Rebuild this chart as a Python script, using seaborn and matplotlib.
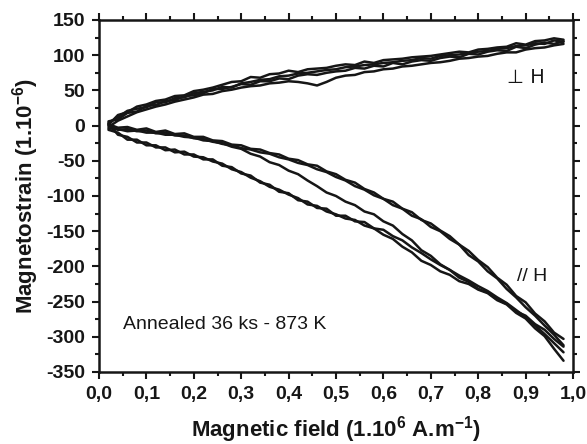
import matplotlib
matplotlib.use("Agg")
import matplotlib.pyplot as plt
import matplotlib.ticker as mticker
import pandas as pd
import seaborn as sns

# magnetic field (1e6 A/m), shared by every sweep
field = [0.02, 0.04, 0.06, 0.08, 0.10, 0.12, 0.14, 0.16, 0.18, 0.20,
         0.22, 0.24, 0.26, 0.28, 0.30, 0.32, 0.34, 0.36, 0.38, 0.40,
         0.42, 0.44, 0.46, 0.48, 0.50, 0.52, 0.54, 0.56, 0.58, 0.60,
         0.62, 0.64, 0.66, 0.68, 0.70, 0.72, 0.74, 0.76, 0.78, 0.80,
         0.82, 0.84, 0.86, 0.88, 0.90, 0.92, 0.94, 0.96, 0.98]

# perpendicular to H
perp_a = [1, 15, 19, 27, 30, 35, 37, 42, 43, 49, 51, 54, 58, 62, 63, 69, 68, 73, 74, 78,
          76, 80, 81, 82, 85, 87, 86, 91, 89, 93, 94, 95, 97, 98, 99, 101, 103, 105, 104, 108,
          109, 111, 112, 117, 115, 120, 121, 124, 122]
perp_b = [6, 9, 18, 20, 28, 29, 35, 36, 42, 43, 46, 52, 52, 55, 59, 58, 63, 63, 67, 66,
          71, 73, 72, 75, 77, 78, 82, 81, 85, 84, 89, 87, 91, 93, 92, 96, 98, 97, 102, 101,
          105, 107, 106, 112, 110, 115, 118, 116, 120]
perp_c = [-2, 7, 13, 19, 23, 27, 30, 34, 37, 40, 44, 45, 49, 51, 54, 56, 57, 60, 61, 63,
          62, 60, 57, 62, 68, 71, 72, 76, 77, 80, 81, 84, 85, 87, 89, 90, 92, 95, 96, 98,
          99, 102, 104, 104, 108, 110, 111, 114, 116]
perp_d = [4, 12, 21, 24, 26, 33, 33, 39, 40, 46, 48, 50, 55, 54, 60, 62, 65, 66, 70, 71,
          74, 75, 77, 79, 80, 83, 84, 86, 87, 89, 90, 92, 93, 96, 95, 99, 100, 101, 103, 105,
          106, 109, 110, 113, 114, 117, 116, 121, 119]

# parallel to H
par_u1 = [2, -3, -2, -6, -4, -9, -7, -12, -11, -16, -16, -21, -22, -27, -28, -33, -34, -39, -41, -47,
          -49, -55, -57, -65, -69, -77, -81, -90, -95, -104, -108, -118, -123, -134, -139, -149, -157, -169, -178, -191,
          -201, -216, -226, -242, -251, -267, -278, -294, -303]
par_u2 = [-4, -5, -8, -7, -10, -10, -13, -13, -16, -17, -21, -22, -26, -28, -32, -34, -38, -40, -45, -48,
          -53, -56, -62, -66, -73, -78, -86, -91, -99, -104, -113, -118, -128, -133, -144, -150, -161, -169, -184, -193,
          -207, -217, -232, -244, -258, -270, -284, -297, -312]
par_m = [0, -6, -5, -8, -7, -11, -10, -14, -14, -18, -19, -23, -25, -30, -33, -40, -44, -52, -56, -64,
         -69, -78, -86, -95, -100, -108, -113, -122, -126, -136, -142, -154, -163, -177, -185, -197, -205, -216, -222, -232,
         -237, -247, -253, -264, -270, -282, -290, -303, -314]
par_l1 = [3, -13, -16, -24, -24, -31, -31, -38, -37, -44, -45, -51, -54, -62, -66, -74, -79, -87, -91, -98,
          -103, -112, -114, -122, -126, -132, -134, -142, -146, -155, -161, -172, -180, -192, -198, -207, -212, -221, -225, -233,
          -238, -248, -254, -266, -274, -288, -299, -317, -334]
par_l2 = [-6, -10, -20, -20, -28, -28, -35, -34, -41, -41, -48, -48, -57, -59, -68, -71, -81, -84, -94, -96,
          -106, -108, -117, -118, -128, -128, -136, -137, -146, -148, -157, -163, -173, -181, -190, -198, -205, -213, -220, -228,
          -235, -244, -252, -262, -272, -284, -296, -309, -322]

sweeps = {
    "perp_a": perp_a, "perp_b": perp_b, "perp_c": perp_c, "perp_d": perp_d,
    "par_u1": par_u1, "par_u2": par_u2, "par_m": par_m,
    "par_l1": par_l1, "par_l2": par_l2,
}

df = pd.concat(
    [pd.DataFrame({"field": field, "strain": v, "sweep": k}) for k, v in sweeps.items()],
    ignore_index=True,
)

sns.set_style("ticks")
plt.rcParams["font.family"] = ["Liberation Sans", "DejaVu Sans"]
plt.rcParams["axes.unicode_minus"] = False
plt.rcParams["mathtext.fontset"] = "custom"
plt.rcParams["mathtext.rm"] = "Liberation Sans:bold"
plt.rcParams["mathtext.bf"] = "Liberation Sans:bold"

ink = "#161616"

fig = plt.figure(figsize=(5.87, 4.44), dpi=100)
ax = fig.add_axes([99 / 587, 72 / 444, 474 / 587, 352 / 444])

sns.lineplot(
    data=df, x="field", y="strain", units="sweep", estimator=None,
    sort=False, color=ink, linewidth=1.8, ax=ax,
)

ax.set_xlim(0.0, 1.0)
ax.set_ylim(-350, 150)
ax.xaxis.set_major_locator(mticker.MultipleLocator(0.1))
ax.xaxis.set_minor_locator(mticker.MultipleLocator(0.05))
ax.yaxis.set_major_locator(mticker.MultipleLocator(50))
ax.yaxis.set_minor_locator(mticker.MultipleLocator(25))
ax.xaxis.set_major_formatter(
    mticker.FuncFormatter(lambda v, _: f"{v:.1f}".replace(".", ","))
)
ax.yaxis.set_major_formatter(mticker.FuncFormatter(lambda v, _: f"{v:.0f}"))

ax.tick_params(which="both", direction="out", top=True, right=True,
               width=1.5, color=ink, labelcolor=ink)
ax.tick_params(which="major", length=5, labelsize=14, pad=5)
ax.tick_params(which="minor", length=3)
for lab in ax.get_xticklabels() + ax.get_yticklabels():
    lab.set_fontweight("bold")
for sp in ax.spines.values():
    sp.set_linewidth(1.8)
    sp.set_color(ink)

ax.set_xlabel(r"Magnetic field (1.10$^{6}$ A.m$^{-1}$)",
              fontsize=16, fontweight="bold", labelpad=8, color=ink)
ax.set_ylabel(r"Magnetostrain (1.10$^{-6}$)",
              fontsize=16, fontweight="bold", labelpad=4, color=ink)

ax.text(0.05, -283, "Annealed 36 ks - 873 K", fontsize=14,
        va="center", ha="left", color=ink)
ax.text(0.86, 68, "\u22a5 H", fontsize=14, va="center", ha="left",
        family=["DejaVu Sans"], color=ink)
ax.text(0.882, -214, "// H", fontsize=14, va="center", ha="left",
        color=ink)

fig.savefig("out.png", dpi=100)
plt.close(fig)
